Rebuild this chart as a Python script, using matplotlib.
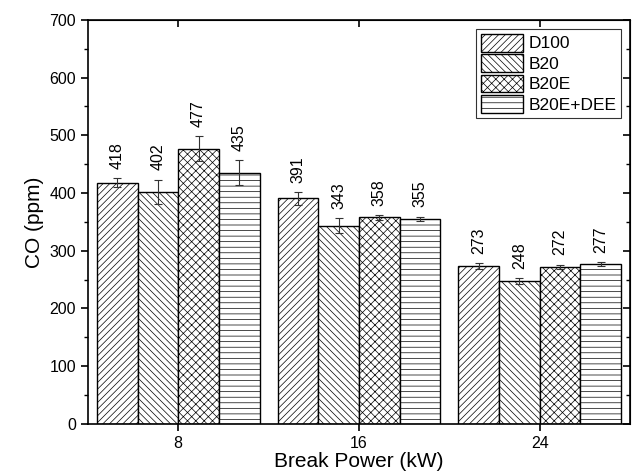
import matplotlib
matplotlib.use('agg')
import matplotlib.pyplot as plt
import numpy as np
from matplotlib.ticker import MultipleLocator

plt.rcParams['font.family'] = ['Liberation Sans', 'DejaVu Sans']
plt.rcParams['hatch.linewidth'] = 0.5

powers = [8, 16, 24]
fuels = ['D100', 'B20', 'B20E', 'B20E+DEE']
co = {
    'D100': [418, 391, 273],
    'B20': [402, 343, 248],
    'B20E': [477, 358, 272],
    'B20E+DEE': [435, 355, 277],
}
err = {
    'D100': [8, 11, 5],
    'B20': [21, 13, 5],
    'B20E': [21, 4, 4],
    'B20E+DEE': [22, 4, 3],
}
hatches = ['/////', '\\\\\\\\\\', 'xxxx', '---']

fig = plt.figure(figsize=(6.32, 4.72), dpi=100)
ax = fig.add_axes([0.139, 0.102, 0.858, 0.856])

w = 1.8
x = np.array(powers, dtype=float)
for i, f in enumerate(fuels):
    pos = x + (i - 1.5) * w
    ax.bar(pos, co[f], w, color='white', edgecolor='black', linewidth=1.0,
           hatch=hatches[i], label=f, yerr=err[f], capsize=3,
           error_kw=dict(elinewidth=0.8, capthick=0.8, ecolor='#333333'))
    for p, v, e in zip(pos, co[f], err[f]):
        ax.text(p, v + e + 16, str(v), rotation=90, ha='center', va='bottom',
                fontsize=11.5)

ax.set_xlim(4, 28)
ax.set_ylim(0, 700)
ax.set_xticks(powers)
ax.yaxis.set_major_locator(MultipleLocator(100))
ax.yaxis.set_minor_locator(MultipleLocator(50))
ax.tick_params(axis='both', labelsize=11.5, direction='out', width=1.2, length=5)
ax.tick_params(axis='y', which='minor', direction='out', length=3, width=1)
for s in ax.spines.values():
    s.set_linewidth(1.2)

# mirrored inward ticks on top and right
axt = ax.secondary_xaxis('top')
axt.set_xticks(powers)
axt.tick_params(direction='in', labeltop=False, length=5, width=1.2)
axr = ax.secondary_yaxis('right')
axr.yaxis.set_major_locator(MultipleLocator(100))
axr.yaxis.set_minor_locator(MultipleLocator(50))
axr.tick_params(direction='in', labelright=False, length=5, width=1.2)
axr.tick_params(which='minor', direction='in', length=3, width=1)

ax.set_xlabel('Break Power (kW)', fontsize=15, labelpad=1)
ax.set_ylabel('CO (ppm)', fontsize=15)

leg = ax.legend(loc='upper right', fontsize=12.5, frameon=True, fancybox=False,
                edgecolor='black', handlelength=2.4, handleheight=1.2,
                handletextpad=0.3, labelspacing=0.15, borderpad=0.3,
                borderaxespad=0.5)
leg.get_frame().set_linewidth(0.8)

fig.savefig('out.png', dpi=100)
